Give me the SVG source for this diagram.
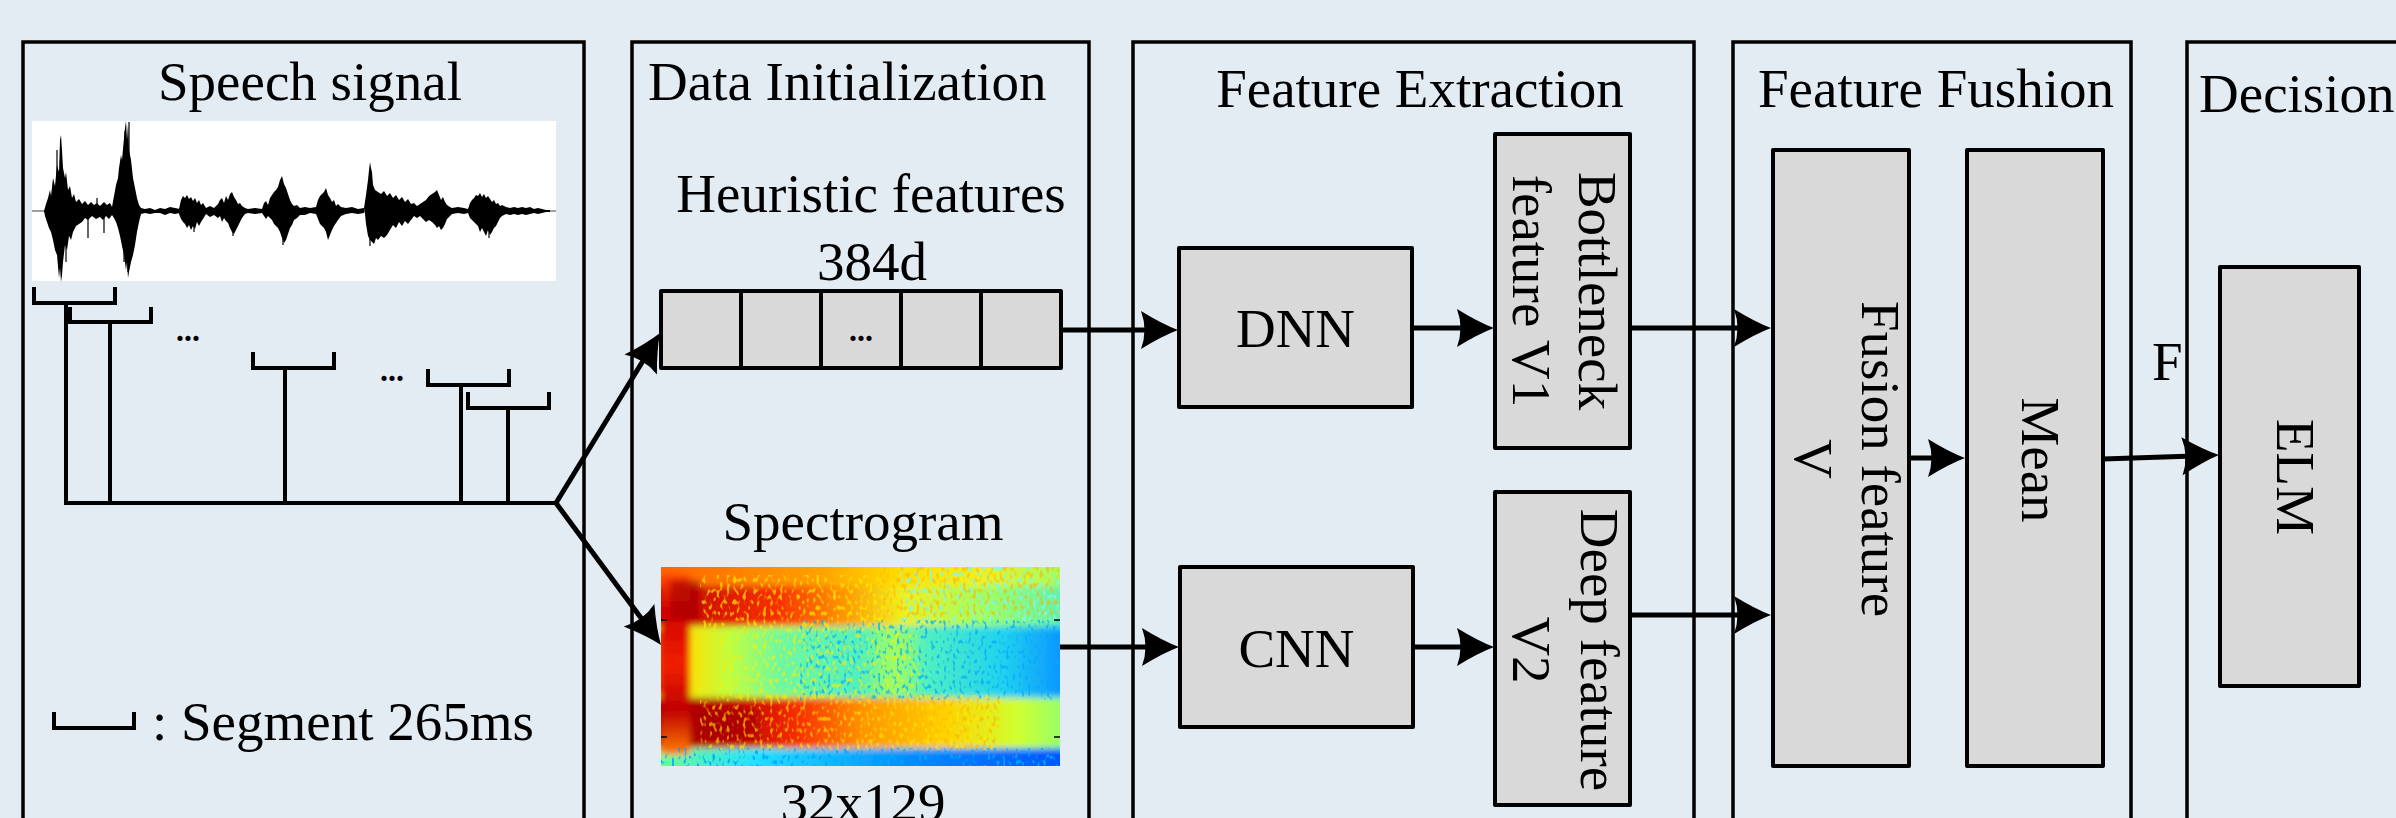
<svg xmlns="http://www.w3.org/2000/svg" width="2396" height="818" viewBox="0 0 2396 818">
<style>
.t{font-family:"Liberation Serif","Times New Roman",serif;font-size:55px;fill:#000}
.panel{fill:none;stroke:#000;stroke-width:3.5}
.box{fill:#D9D9D9;stroke:#000;stroke-width:4;stroke-linejoin:round}
.ln{fill:none;stroke:#000;stroke-width:4}
.br{fill:none;stroke:#000;stroke-width:4;stroke-linejoin:miter}
.con{fill:none;stroke:#000;stroke-width:5;marker-end:url(#ah)}
.dots{font-family:"Liberation Serif",serif;font-size:32px;font-weight:bold;text-anchor:middle}
.wave{fill:#000}
</style>
<defs>
<marker id="ah" viewBox="-30 -22 42 44" refX="0" refY="0" markerWidth="42" markerHeight="44" markerUnits="userSpaceOnUse" orient="auto"><path d="M10,0 Q-6,-6 -27,-19 Q-20,0 -27,19 Q-6,6 10,0 Z" fill="#000"/></marker>
<clipPath id="spc"><rect x="661" y="567" width="399" height="199"/></clipPath>
<filter id="blur" x="-5%" y="-5%" width="110%" height="110%"><feGaussianBlur stdDeviation="3"/></filter>
<filter id="spB" x="0" y="0" width="100%" height="100%"><feTurbulence type="fractalNoise" baseFrequency="0.32 0.2" numOctaves="1" seed="3"/><feColorMatrix type="matrix" values="0 0 0 0 0  0 0 0 0 0.4  0 0 0 0 1  7 0 0 0 -3.9"/></filter>
<filter id="spC" x="0" y="0" width="100%" height="100%"><feTurbulence type="fractalNoise" baseFrequency="0.3 0.18" numOctaves="1" seed="8"/><feColorMatrix type="matrix" values="0 0 0 0 0.2  0 0 0 0 0.95  0 0 0 0 0.9  6 0 0 0 -3.2"/></filter>
<filter id="spY" x="0" y="0" width="100%" height="100%"><feTurbulence type="fractalNoise" baseFrequency="0.3 0.18" numOctaves="1" seed="11"/><feColorMatrix type="matrix" values="0 0 0 0 1  0 0 0 0 0.85  0 0 0 0 0  6 0 0 0 -3.2"/></filter>
<filter id="spR" x="0" y="0" width="100%" height="100%"><feTurbulence type="fractalNoise" baseFrequency="0.3 0.18" numOctaves="1" seed="21"/><feColorMatrix type="matrix" values="0 0 0 0 1  0 0 0 0 0.45  0 0 0 0 0  6 0 0 0 -3.2"/></filter>
<linearGradient id="gBg" x1="0" x2="1" y1="0" y2="0"><stop offset="0" stop-color="#FFE000"/><stop offset="0.25" stop-color="#B0FF50"/><stop offset="0.5" stop-color="#70F0A0"/><stop offset="0.8" stop-color="#30E0E0"/><stop offset="1" stop-color="#10B0FF"/></linearGradient>
<linearGradient id="gTop" x1="0" x2="1" y1="0" y2="0"><stop offset="0" stop-color="#FF6000"/><stop offset="0.4" stop-color="#FFA000"/><stop offset="0.6" stop-color="#FFE000"/><stop offset="0.8" stop-color="#F0F020"/><stop offset="1" stop-color="#A0FF60"/></linearGradient>
<linearGradient id="gUp" x1="0" x2="1" y1="0" y2="0"><stop offset="0" stop-color="#B00000"/><stop offset="0.1" stop-color="#D01000"/><stop offset="0.3" stop-color="#F83000"/><stop offset="0.45" stop-color="#FF9000"/><stop offset="0.6" stop-color="#F0F020"/><stop offset="0.8" stop-color="#A0FF60"/><stop offset="1" stop-color="#60F0B0"/></linearGradient>
<linearGradient id="gMid" x1="0" x2="1" y1="0" y2="0"><stop offset="0" stop-color="#FF3000"/><stop offset="0.08" stop-color="#FFE000"/><stop offset="0.18" stop-color="#C0FF40"/><stop offset="0.3" stop-color="#70F8A0"/><stop offset="0.5" stop-color="#50F0C0"/><stop offset="0.58" stop-color="#A0FF60"/><stop offset="0.66" stop-color="#50F0C0"/><stop offset="0.85" stop-color="#20D0F0"/><stop offset="1" stop-color="#0A90FF"/></linearGradient>
<linearGradient id="gLow" x1="0" x2="1" y1="0" y2="0"><stop offset="0" stop-color="#A00000"/><stop offset="0.2" stop-color="#C00000"/><stop offset="0.35" stop-color="#F83000"/><stop offset="0.5" stop-color="#FF9000"/><stop offset="0.7" stop-color="#FFD000"/><stop offset="0.88" stop-color="#D0FF30"/><stop offset="1" stop-color="#90FF70"/></linearGradient>
<linearGradient id="gBot" x1="0" x2="1" y1="0" y2="0"><stop offset="0" stop-color="#70FF90"/><stop offset="0.25" stop-color="#20E0FF"/><stop offset="0.6" stop-color="#0090FF"/><stop offset="1" stop-color="#0050FF"/></linearGradient>
<linearGradient id="gCol" x1="0" x2="0" y1="0" y2="1"><stop offset="0" stop-color="#FF4000"/><stop offset="0.2" stop-color="#D00000"/><stop offset="0.5" stop-color="#F02000"/><stop offset="0.75" stop-color="#C00000"/><stop offset="1" stop-color="#FF8000"/></linearGradient>
</defs>
<rect x="0" y="0" width="2396" height="818" fill="#E3EBF3"/>

<g id="panel-speech">
<rect class="panel" x="23" y="42" width="561" height="800"/>
<text class="t" x="158" y="100">Speech signal</text>
<rect x="32" y="121" width="524" height="160" fill="#fff"/>
<line x1="32" y1="211" x2="556" y2="211" stroke="#808080" stroke-width="1.5"/>
<g class="wave">
<path d="M44,211 46,204 48,198 50,190 51,196 53,178 55,186 57,165 59,172 60,140 61,135 62,150 63,168 65,178 66,172 68,190 70,186 72,198 74,194 76,202 79,199 82,204 85,201 88,205 91,202 94,205 97,203 100,206 104,202 107,205 110,203 112,207 112,215 109,219 106,216 103,220 100,217 96,219 92,216 88,220 85,218 82,222 79,224 76,226 73,232 71,240 69,236 67,250 65,245 63,262 62,275 61,282 60,268 59,278 57,255 55,250 53,240 51,232 49,228 47,222 45,216Z"/>
<path d="M112,207 114,196 116,185 118,178 119,168 121,155 122,160 124,138 125,128 126,121 127,140 128,124 129,150 131,160 133,178 135,188 137,198 139,205 141,208 145,209 150,208 155,210 160,208 165,209 170,207 175,208 180,209 180,213 175,214 170,213 165,215 160,213 155,213 150,214 145,213 141,214 139,222 137,232 135,245 133,255 131,262 129,272 128,278 127,262 126,270 124,255 122,246 120,236 118,228 116,222 114,218 112,215Z"/>
<path d="M179,209 181,200 183,196 185,198 187,195 189,199 191,197 193,201 195,198 197,203 199,200 201,205 203,203 206,208 210,206 214,208 218,204 218,218 214,215 210,217 206,214 203,219 201,222 199,226 197,222 195,229 193,226 191,230 189,225 187,228 185,224 183,222 181,219 179,214Z"/>
<path d="M218,204 220,200 222,198 224,203 226,196 228,200 230,194 232,192 234,197 236,200 238,204 240,203 242,206 245,208 248,209 255,208 262,209 262,213 255,214 248,213 245,214 242,218 240,222 238,226 236,230 234,234 232,232 230,228 228,223 226,221 224,218 222,222 220,216 218,218Z"/>
<path d="M262,209 264,203 266,201 268,205 270,198 272,195 274,192 276,190 278,187 280,180 282,176 284,184 286,188 288,194 290,200 292,204 294,206 297,205 300,208 305,207 310,208 316,207 316,214 310,213 305,215 300,215 297,218 294,220 292,225 290,228 288,234 286,240 284,243 282,238 280,232 278,228 276,226 274,224 272,220 270,218 268,216 266,219 264,216 262,213Z"/>
<path d="M316,207 318,200 320,196 322,194 324,192 326,188 328,195 330,198 332,202 334,200 336,206 338,204 341,207 346,208 352,207 358,209 364,208 364,213 358,214 352,213 346,214 341,216 338,220 336,223 334,226 332,230 330,235 328,240 326,232 324,228 322,226 320,224 318,219 316,214Z"/>
<path d="M364,208 366,195 368,180 369,170 370,162 371,168 372,172 373,185 375,190 378,192 381,194 384,191 387,196 390,193 393,198 396,195 399,200 402,197 405,202 408,199 411,204 411,220 408,224 405,221 402,226 399,222 396,228 393,225 390,230 387,235 384,238 381,236 378,240 376,238 374,244 372,242 370,240 368,236 367,230 366,224 365,214Z"/>
<path d="M411,204 414,203 417,206 420,204 423,202 426,200 429,196 432,194 435,192 437,190 439,195 441,200 443,197 445,202 447,205 450,207 452,208 458,207 464,208 468,209 468,213 464,214 458,213 452,214 450,216 447,219 445,224 443,228 441,230 439,226 437,228 435,225 432,222 429,220 426,222 423,219 420,216 417,218 414,216 411,220Z"/>
<path d="M468,209 470,203 472,200 474,198 476,195 478,196 480,193 482,197 484,194 486,198 488,196 490,199 492,202 494,200 496,204 498,203 500,206 502,205 506,207 510,208 514,207 518,208 522,207 526,208 530,207 534,209 538,208 542,209 546,210 550,210 550,212 546,212 542,213 538,214 534,213 530,214 526,215 522,214 518,215 514,214 510,215 506,214 502,216 500,218 498,222 496,226 494,228 492,232 490,235 488,230 486,236 484,232 482,228 480,232 478,226 476,224 474,222 472,220 470,218 468,213Z"/>
<path d="M57,211V150M63,211V176M125,211V131M129,211V122M66,211V262M59,211V268M128,211V272M124,211V262M88,211V238M97,211V198M194,211V232M233,211V236M283,211V245M370,211V246M489,211V238M104,211V233" stroke="#000" stroke-width="1.2"/>
</g>
<path class="br" d="M34,287 V303 H115 V287"/>
<path class="br" d="M70,307 V322 H151 V307"/>
<path class="br" d="M253,352 V368 H334 V352"/>
<path class="br" d="M428,369 V385 H509 V369"/>
<path class="br" d="M468,392 V408 H549 V392"/>
<path class="ln" d="M66,303 V503 M110,322 V503 M285,368 V503 M461,385 V503 M508,408 V503 M64,503 H556"/>
<text class="dots" x="188" y="341">...</text>
<text class="dots" x="392" y="381">...</text>
<path class="br" d="M54,712 V728 H134 V712"/>
<text class="t" x="152" y="740">: Segment 265ms</text>
</g>

<g id="panel-init">
<rect class="panel" x="632" y="42" width="457" height="800"/>
<text class="t" x="648" y="100">Data Initialization</text>
<text class="t" x="871" y="212" text-anchor="middle">Heuristic features</text>
<text class="t" x="872" y="280" text-anchor="middle">384d</text>
<g id="heuristic-vector">
<rect class="box" x="661" y="291" width="80" height="77"/>
<rect class="box" x="741" y="291" width="80" height="77"/>
<rect class="box" x="821" y="291" width="80" height="77"/>
<rect class="box" x="901" y="291" width="80" height="77"/>
<rect class="box" x="981" y="291" width="80" height="77"/>
<text class="dots" x="861" y="341">...</text>
</g>
<text class="t" x="863" y="540" text-anchor="middle">Spectrogram</text>
<g id="spectrogram" clip-path="url(#spc)">
<g filter="url(#blur)">
<rect x="655" y="560" width="412" height="212" fill="url(#gBg)"/>
<rect x="655" y="560" width="412" height="28" fill="url(#gTop)"/>
<rect x="655" y="586" width="412" height="40" fill="url(#gUp)"/>
<rect x="655" y="630" width="412" height="64" fill="url(#gMid)"/>
<rect x="655" y="698" width="412" height="50" fill="url(#gLow)"/>
<rect x="655" y="749" width="412" height="24" fill="url(#gBot)"/>
<rect x="660" y="575" width="30" height="180" fill="url(#gCol)"/>
<rect x="670" y="580" width="30" height="40" fill="#A00000" opacity="0.6"/>
<rect x="700" y="710" width="60" height="30" fill="#A00000" opacity="0.5"/>
</g>
<rect x="800" y="620" width="260" height="80" filter="url(#spB)" opacity="0.7"/>
<rect x="661" y="748" width="399" height="18" filter="url(#spB)" opacity="0.9"/>
<rect x="900" y="567" width="160" height="55" filter="url(#spC)" opacity="0.8"/>
<rect x="700" y="575" width="200" height="55" filter="url(#spY)" opacity="0.7"/>
<rect x="700" y="695" width="300" height="55" filter="url(#spY)" opacity="0.6"/>
<rect x="880" y="567" width="180" height="50" filter="url(#spR)" opacity="0.6"/>
<rect x="860" y="698" width="140" height="50" filter="url(#spR)" opacity="0.6"/>
<rect x="720" y="630" width="200" height="65" filter="url(#spY)" opacity="0.6"/>
<path d="M661,620 h6 M661,737 h6 M1054,620 h6 M1054,737 h6" stroke="#000" stroke-width="1.5"/>
</g>
<text class="t" x="863" y="821" text-anchor="middle">32x129</text>
</g>

<g id="panel-extract">
<rect class="panel" x="1133" y="42" width="561" height="800"/>
<text class="t" x="1420" y="107" text-anchor="middle">Feature Extraction</text>
<g id="dnn"><rect class="box" x="1179" y="248" width="233" height="159"/><text class="t" x="1295.5" y="347" text-anchor="middle">DNN</text></g>
<g id="cnn"><rect class="box" x="1180" y="567" width="233" height="160"/><text class="t" x="1296.5" y="667" text-anchor="middle">CNN</text></g>
<g id="bottleneck"><rect class="box" x="1495" y="134" width="135" height="314"/>
<text class="t" text-anchor="middle" transform="translate(1562.5,291) rotate(90)"><tspan x="0" y="-16.5">Bottleneck</tspan><tspan x="0" y="49.5">feature V1</tspan></text></g>
<g id="deepfeature"><rect class="box" x="1495" y="492" width="135" height="313"/>
<text class="t" text-anchor="middle" transform="translate(1562.5,650) rotate(90)"><tspan x="0" y="-18.5">Deep feature</tspan><tspan x="0" y="49.5">V2</tspan></text></g>
</g>

<g id="panel-fusion">
<rect class="panel" x="1733" y="42" width="398" height="800"/>
<text class="t" x="1936" y="107" text-anchor="middle">Feature Fushion</text>
<g id="fusion"><rect class="box" x="1773" y="150" width="136" height="616"/>
<text class="t" text-anchor="middle" transform="translate(1841,459) rotate(90)"><tspan x="0" y="-21">Fusion feature</tspan><tspan x="0" y="46">V</tspan></text></g>
<g id="mean"><rect class="box" x="1967" y="150" width="136" height="616"/>
<text class="t" text-anchor="middle" transform="translate(2035,460) rotate(90)" y="13">Mean</text></g>
</g>

<g id="panel-decision">
<rect class="panel" x="2187" y="42" width="260" height="800"/>
<text class="t" x="2199" y="112">Decision</text>
<g id="elm"><rect class="box" x="2220" y="267" width="139" height="419"/>
<text class="t" text-anchor="middle" transform="translate(2289.5,477) rotate(90)" y="12.5">ELM</text></g>
</g>

<text id="label-F" class="t" x="2152" y="380">F</text>

<g id="connectors">
<path class="con" d="M556,503 L654.8,341.5"/>
<path class="con" d="M556,503 L655.1,637"/>
<path class="con" d="M1061,330 H1168"/>
<path class="con" d="M1412,328 H1484"/>
<path class="con" d="M1630,328 H1761"/>
<path class="con" d="M1060,647 H1169"/>
<path class="con" d="M1413,647 H1484"/>
<path class="con" d="M1630,615 H1761"/>
<path class="con" d="M1909,458 H1955"/>
<path class="con" d="M2103,459 L2209,455.4"/>
</g>
</svg>
